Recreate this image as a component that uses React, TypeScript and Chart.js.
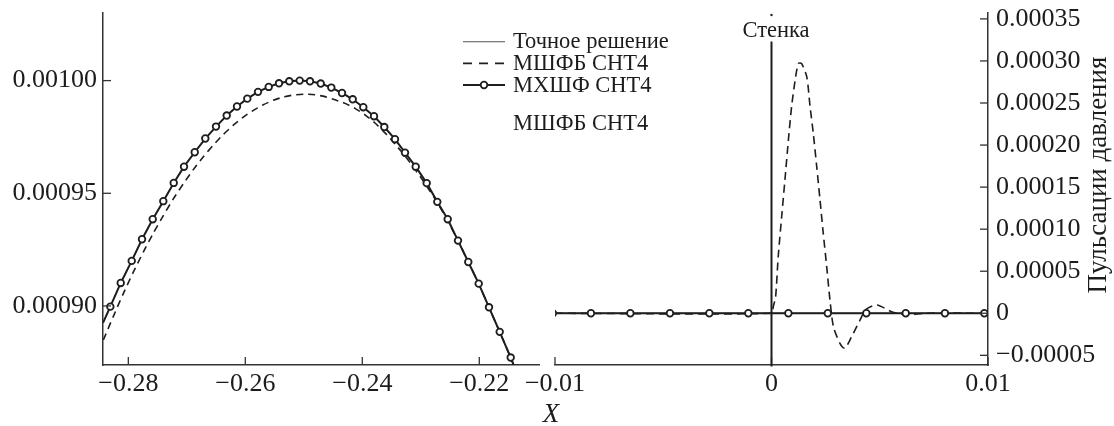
import React, { useEffect, useRef } from "react";
import { Chart, registerables } from "chart.js";

Chart.register(...registerables);

// ---------- data: left panel (pulse detail) ----------
const leftXRange = [-0.28433, -0.20974];
const leftYRange = [0.0008738, 0.00103];
const leftXTicks = [-0.28, -0.26, -0.24, -0.22];
const leftYTicks = [0.0009, 0.00095, 0.001];

// МХШФ СНТ4 (solid with circles); first/last entries are where the line meets the frame
const leftMxshfX = [
  -0.28433, -0.28308, -0.2813, -0.27942, -0.27766, -0.27583, -0.27402, -0.27224, -0.27048, -0.26865,
  -0.26684, -0.26501, -0.26318, -0.26142, -0.25966, -0.25783, -0.256, -0.25424, -0.25248, -0.2507,
  -0.24894, -0.24711, -0.2453, -0.24347, -0.24164, -0.23983, -0.238, -0.23624, -0.23441, -0.2327,
  -0.23087, -0.22899, -0.22718, -0.2254, -0.22364, -0.22188, -0.2201, -0.21834, -0.21651, -0.21463,
  -0.21407,
];
const leftMxshfY = [
  0.0008925, 0.0008997, 0.0009102, 0.00092, 0.0009296, 0.0009385, 0.0009465, 0.0009546, 0.0009618, 0.0009682,
  0.0009743, 0.0009796, 0.0009845, 0.0009885, 0.000992, 0.000995, 0.0009972, 0.0009988, 0.0009997, 0.001,
  0.0009997, 0.0009987, 0.0009969, 0.0009945, 0.0009917, 0.0009882, 0.0009842, 0.0009794, 0.000974, 0.000968,
  0.0009618, 0.0009545, 0.0009462, 0.0009385, 0.000929, 0.0009195, 0.0009099, 0.0008994, 0.0008885, 0.0008771,
  0.0008734,
];
// Точное решение (coincides with the circle curve)
const leftExactX = leftMxshfX;
const leftExactY = leftMxshfY;
// МШФБ СНТ4 (dashed)
const leftMshfbX = [
  -0.28427, -0.28256, -0.28086, -0.27915, -0.27744, -0.27573, -0.27402, -0.27231, -0.2706, -0.26889,
  -0.26718, -0.26547, -0.26376, -0.26205, -0.26034, -0.25863, -0.25692, -0.25521, -0.2535, -0.2518,
  -0.2498, -0.24809, -0.24638, -0.24467, -0.24296, -0.24125, -0.23954, -0.23783, -0.23612, -0.23441,
  -0.2327, -0.23099, -0.22928, -0.22757, -0.22586, -0.22364, -0.22188, -0.2201, -0.21834, -0.21651,
  -0.21463, -0.21407,
];
const leftMshfbY = [
  0.0008849, 0.0008954, 0.0009055, 0.000915, 0.0009239, 0.0009323, 0.0009401, 0.0009475, 0.0009542, 0.0009605,
  0.0009662, 0.0009714, 0.0009761, 0.0009802, 0.0009838, 0.0009868, 0.0009893, 0.0009913, 0.0009927, 0.0009936,
  0.000994, 0.0009937, 0.0009929, 0.0009915, 0.0009899, 0.0009877, 0.0009848, 0.0009812, 0.0009768, 0.0009719,
  0.0009666, 0.0009607, 0.0009543, 0.0009475, 0.00094, 0.000929, 0.0009195, 0.0009099, 0.0008994, 0.0008885,
  0.0008771, 0.0008734,
];

// ---------- data: right panel (near the wall) ----------
const rightXRange = [-0.01, 0.01];
const rightYRange = [-0.0000615, 0.000357];
const rightXTicks = [-0.01, 0, 0.01];
const rightYTicks = [-0.00005, 0, 0.00005, 0.0001, 0.00015, 0.0002, 0.00025, 0.0003, 0.00035];

const rightExactX = [-0.01, 0.01];
const rightExactY = [0, 0];
const rightMxshfX = [-0.0101, -0.00834, -0.00652, -0.00469, -0.00287, -0.00107, 0.00078, 0.0026, 0.00438, 0.0062, 0.00801, 0.00983, 0.01];
const rightMxshfY = [0, 0, 0, 0, 0, 0, 0, 0, 0, 0, 0, 0, 0];
const rightMshfbX = [
  -0.01, 0.0, 0.00008, 0.00019, 0.00031, 0.00047, 0.00062, 0.00078, 0.00093, 0.00109,
  0.00124, 0.00139, 0.00163, 0.00178, 0.00193, 0.00209, 0.00224, 0.00239, 0.00255, 0.0027,
  0.00286, 0.00316, 0.00339, 0.0037, 0.00409, 0.00437, 0.00486, 0.00555, 0.00624, 0.00709, 0.01,
];
const rightMshfbY = [
  0, 0, 0.0000078, 0.0000197, 0.0000673, 0.000115, 0.0001585, 0.000206, 0.000246, 0.000277,
  0.000297, 0.000297, 0.000281, 0.000246, 0.000214, 0.000174, 0.000135, 0.0000952, 0.0000554, 0.0000158,
  -0.0000159, -0.0000357, -0.0000416, -0.0000278, -0.000008, 0.0000048, 0.0000099, 0.0000019, -0.000002, 0, 0,
];
const wallX = 0;
const wallTop = 0.000323;

const legendLabels = ["Точное решение", "МШФБ СНТ4", "МХШФ СНТ4"];
const strayLabel = "МШФБ СНТ4";
const wallLabel = "Стенка";
const xTitle = "X";
const yTitle = "Пульсации давления";

// ---------- styling ----------
const W = 1114;
const H = 426;
const SERIF = '"Liberation Serif", "DejaVu Serif", serif';
const TEXT = "#1c1c1c";
const AXIS = "#333333";
const INK = "#1e1e1e";
const TICK_LEN = 8;

const pts = (xs: number[], ys: number[]) => xs.map((x, i) => ({ x, y: ys[i] }));
const minus = (v: number) => (v < 0 ? "\u2212" : "");

const inwardTicks = {
  id: "inwardTicks",
  afterDraw(chart: any) {
    const ctx = chart.ctx;
    const { left, right, bottom } = chart.chartArea;
    ctx.save();
    ctx.strokeStyle = AXIS;
    ctx.lineWidth = 1.3;
    Object.keys(chart.scales).forEach((id) => {
      const s = chart.scales[id];
      s.ticks.forEach((t: any) => {
        const p = s.getPixelForValue(t.value);
        ctx.beginPath();
        if (s.isHorizontal()) {
          ctx.moveTo(p, bottom);
          ctx.lineTo(p, bottom - TICK_LEN);
        } else if (s.position === "left") {
          ctx.moveTo(left, p);
          ctx.lineTo(left + TICK_LEN, p);
        } else {
          ctx.moveTo(right, p);
          ctx.lineTo(right - TICK_LEN, p);
        }
        ctx.stroke();
      });
    });
    ctx.restore();
  },
};

const leftDecor = {
  id: "leftDecor",
  afterDraw(chart: any) {
    const ctx = chart.ctx;
    ctx.save();
    // legend
    const x0 = 463;
    const x1 = 505;
    const rows = [41.7, 63.3, 85];
    const baselines = [48.3, 70, 91.7];
    ctx.strokeStyle = INK;
    // row 1: thin solid
    ctx.lineWidth = 1.1;
    ctx.strokeStyle = "#555";
    ctx.beginPath();
    ctx.moveTo(x0, rows[0]);
    ctx.lineTo(x1, rows[0]);
    ctx.stroke();
    // row 2: dashed
    ctx.strokeStyle = INK;
    ctx.lineWidth = 1.8;
    ctx.setLineDash([9, 7]);
    ctx.beginPath();
    ctx.moveTo(x0, rows[1]);
    ctx.lineTo(x1, rows[1]);
    ctx.stroke();
    ctx.setLineDash([]);
    // row 3: solid with circle
    ctx.lineWidth = 2;
    ctx.beginPath();
    ctx.moveTo(x0, rows[2]);
    ctx.lineTo(x1, rows[2]);
    ctx.stroke();
    ctx.beginPath();
    ctx.arc((x0 + x1) / 2, rows[2], 3.3, 0, Math.PI * 2);
    ctx.fillStyle = "#fff";
    ctx.fill();
    ctx.lineWidth = 1.8;
    ctx.stroke();
    // legend texts
    ctx.fillStyle = TEXT;
    ctx.font = `22.5px ${SERIF}`;
    ctx.textAlign = "left";
    ctx.textBaseline = "alphabetic";
    legendLabels.forEach((t, i) => ctx.fillText(t, 513, baselines[i]));
    ctx.fillText(strayLabel, 513, 130);
    // X title
    ctx.font = `italic 27px ${SERIF}`;
    ctx.textAlign = "center";
    ctx.fillText(xTitle, 551, 422);
    ctx.restore();
  },
};

const rightDecor = {
  id: "rightDecor",
  afterDraw(chart: any) {
    const ctx = chart.ctx;
    const xs = chart.scales.x;
    const ys = chart.scales.y;
    const { bottom } = chart.chartArea;
    const px = xs.getPixelForValue(wallX);
    ctx.save();
    ctx.strokeStyle = INK;
    ctx.lineWidth = 2;
    ctx.beginPath();
    ctx.moveTo(px, ys.getPixelForValue(wallTop));
    ctx.lineTo(px, bottom + 1.5);
    ctx.stroke();
    ctx.fillStyle = INK;
    ctx.beginPath();
    ctx.arc(px, 15, 1.2, 0, Math.PI * 2);
    ctx.fill();
    ctx.fillStyle = TEXT;
    ctx.font = `22.5px ${SERIF}`;
    ctx.textAlign = "center";
    ctx.textBaseline = "alphabetic";
    ctx.fillText(wallLabel, px + 4.5, 37);
    // right axis title, reading upwards
    ctx.translate(1106, 175);
    ctx.rotate(-Math.PI / 2);
    ctx.font = `27px ${SERIF}`;
    ctx.fillText(yTitle, 0, 0);
    ctx.restore();
  },
};

const tickFont = { family: SERIF, size: 26, lineHeight: 1.2 };

function axisBase() {
  return {
    type: "linear" as const,
    grid: { display: false, drawTicks: false },
    border: { display: true, color: AXIS, width: 1.5 },
  };
}

function leftConfig(): any {
  return {
    type: "line",
    data: {
      datasets: [
        {
          label: legendLabels[2],
          data: pts(leftMxshfX, leftMxshfY),
          borderColor: INK,
          borderWidth: 2,
          pointRadius: leftMxshfX.map((_, i) => (i === 0 || i === leftMxshfX.length - 1 ? 0 : 3.3)),
          pointBorderWidth: 1.8,
          pointBackgroundColor: "#fff",
          pointBorderColor: INK,
          tension: 0,
          clip: 0,
        },
        {
          label: legendLabels[1],
          data: pts(leftMshfbX, leftMshfbY),
          borderColor: INK,
          borderWidth: 1.6,
          borderDash: [7, 5],
          pointRadius: 0,
          tension: 0.2,
          clip: 0,
        },
        {
          label: legendLabels[0],
          data: pts(leftExactX, leftExactY),
          borderColor: "#444",
          borderWidth: 1,
          pointRadius: 0,
          tension: 0,
          clip: 0,
        },
      ],
    },
    options: {
      responsive: false,
      animation: false,
      devicePixelRatio: 1,
      events: [],
      layout: { padding: { top: 13, right: W - 539.3, bottom: H - 365 - 40, left: 0 } },
      plugins: { legend: { display: false }, tooltip: { enabled: false }, title: { display: false } },
      scales: {
        x: {
          ...axisBase(),
          position: "bottom",
          min: leftXRange[0],
          max: leftXRange[1],
          ticks: {
            font: tickFont,
            color: TEXT,
            padding: 4,
            autoSkip: false,
            maxRotation: 0,
            minRotation: 0,
            callback: (v: number) => minus(v) + Math.abs(v).toFixed(2),
          },
          afterBuildTicks: (s: any) => {
            s.ticks = leftXTicks.map((value) => ({ value }));
          },
          afterFit: (s: any) => {
            s.height = 40;
            s.paddingLeft = 0;
            s.paddingRight = 0;
          },
        },
        y: {
          ...axisBase(),
          position: "left",
          min: leftYRange[0],
          max: leftYRange[1],
          ticks: {
            font: tickFont,
            color: TEXT,
            padding: 6,
            autoSkip: false,
            callback: (v: number) => v.toFixed(5),
          },
          afterBuildTicks: (s: any) => {
            s.ticks = leftYTicks.map((value) => ({ value }));
          },
          afterFit: (s: any) => {
            s.width = 103;
            s.paddingTop = 0;
            s.paddingBottom = 0;
          },
        },
      },
    },
    plugins: [inwardTicks, leftDecor],
  };
}

function rightConfig(): any {
  return {
    type: "line",
    data: {
      datasets: [
        {
          label: legendLabels[2],
          data: pts(rightMxshfX, rightMxshfY),
          borderColor: INK,
          borderWidth: 2,
          pointRadius: rightMxshfX.map((_, i) => (i === rightMxshfX.length - 1 ? 0 : 3.3)),
          pointBorderWidth: 1.8,
          pointBackgroundColor: "#fff",
          pointBorderColor: INK,
          tension: 0,
          clip: 0,
        },
        {
          label: legendLabels[1],
          data: pts(rightMshfbX, rightMshfbY),
          borderColor: INK,
          borderWidth: 1.6,
          borderDash: [8, 5],
          pointRadius: 0,
          tension: 0.25,
          clip: 0,
        },
        {
          label: legendLabels[0],
          data: pts(rightExactX, rightExactY),
          borderColor: "#444",
          borderWidth: 1,
          pointRadius: 0,
          tension: 0,
          clip: 0,
        },
      ],
    },
    options: {
      responsive: false,
      animation: false,
      devicePixelRatio: 1,
      events: [],
      layout: { padding: { top: 13, right: 0, bottom: H - 365 - 40, left: 555 } },
      plugins: { legend: { display: false }, tooltip: { enabled: false }, title: { display: false } },
      scales: {
        x: {
          ...axisBase(),
          position: "bottom",
          min: rightXRange[0],
          max: rightXRange[1],
          ticks: {
            font: tickFont,
            color: TEXT,
            padding: 4,
            autoSkip: false,
            maxRotation: 0,
            minRotation: 0,
            callback: (v: number) => (Math.abs(v) < 1e-12 ? "0" : minus(v) + Math.abs(v).toFixed(2)),
          },
          afterBuildTicks: (s: any) => {
            s.ticks = rightXTicks.map((value) => ({ value }));
          },
          afterFit: (s: any) => {
            s.height = 40;
            s.paddingLeft = 0;
            s.paddingRight = 0;
          },
        },
        y: {
          ...axisBase(),
          position: "right",
          min: rightYRange[0],
          max: rightYRange[1],
          ticks: {
            font: tickFont,
            color: TEXT,
            padding: 8,
            autoSkip: false,
            callback: (v: number) => (Math.abs(v) < 1e-12 ? "0" : minus(v) + Math.abs(v).toFixed(5)),
          },
          afterBuildTicks: (s: any) => {
            s.ticks = rightYTicks.map((value) => ({ value }));
          },
          afterFit: (s: any) => {
            s.width = W - 988;
            s.paddingTop = 0;
            s.paddingBottom = 0;
          },
        },
      },
    },
    plugins: [inwardTicks, rightDecor],
  };
}

export default function App() {
  const leftRef = useRef<HTMLCanvasElement>(null);
  const rightRef = useRef<HTMLCanvasElement>(null);

  useEffect(() => {
    const c1 = new Chart(leftRef.current as HTMLCanvasElement, leftConfig());
    const c2 = new Chart(rightRef.current as HTMLCanvasElement, rightConfig());
    return () => {
      c1.destroy();
      c2.destroy();
    };
  }, []);

  return (
    <div style={{ position: "absolute", left: 0, top: 0, width: W, height: H, background: "#fff" }}>
      <canvas ref={leftRef} width={W} height={H} style={{ position: "absolute", left: 0, top: 0 }} />
      <canvas ref={rightRef} width={W} height={H} style={{ position: "absolute", left: 0, top: 0 }} />
    </div>
  );
}
